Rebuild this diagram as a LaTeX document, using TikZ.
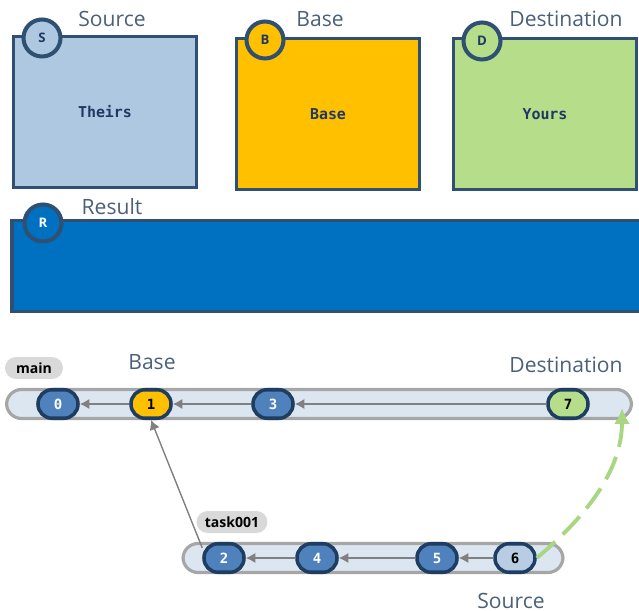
\documentclass[tikz,border=0pt]{standalone}
\usepackage{fontspec}
\setmainfont{Open Sans}
\setmonofont{DejaVu Sans Mono}
\usetikzlibrary{arrows.meta,positioning}
\definecolor{boxline}{RGB}{47,80,114}
\definecolor{commitline}{RGB}{30,61,96}
\definecolor{sourcefill}{RGB}{175,200,225}
\definecolor{basefill}{RGB}{255,192,0}
\definecolor{destfill}{RGB}{181,221,138}
\definecolor{resultfill}{RGB}{0,112,192}
\definecolor{commitblue}{RGB}{79,129,189}
\definecolor{commitlight}{RGB}{184,204,228}
\definecolor{lanefill}{RGB}{220,230,241}
\definecolor{laneline}{RGB}{166,166,166}
\definecolor{tagfill}{RGB}{217,217,217}
\definecolor{labeltext}{RGB}{75,96,122}
\definecolor{boxtext}{RGB}{31,56,100}
\definecolor{mergegreen}{RGB}{169,214,130}

\begin{document}
\begin{tikzpicture}[x=0.02cm, y=-0.02cm,
    box/.style={rectangle, draw=boxline, line width=2.2pt, minimum width=3.66cm, minimum height=3.02cm, align=center, font=\ttfamily\bfseries\fontsize{8.5}{10}\selectfont, text=boxtext},
    badge/.style={circle, draw=boxline, line width=2.3pt, minimum size=0.74cm, inner sep=0pt, font=\bfseries\fontsize{7.5}{8}\selectfont, text=boxtext},
    title/.style={font=\fontsize{12}{14}\selectfont, text=labeltext},
    lane/.style={rectangle, rounded corners=0.3cm, draw=laneline, line width=1.8pt, fill=lanefill, minimum height=0.58cm},
    commit/.style={rectangle, rounded corners=0.28cm, draw=commitline, line width=2pt, fill=commitblue, minimum width=0.8cm, minimum height=0.57cm, inner sep=0pt, font=\ttfamily\bfseries\fontsize{8}{9}\selectfont, text=white},
    tag/.style={rectangle, rounded corners=0.22cm, fill=tagfill, minimum height=0.44cm, inner sep=0pt, font=\bfseries\fontsize{8}{9}\selectfont},
    parent/.style={-{Latex[length=5.5pt,width=6pt]}, draw=gray, line width=1.1pt},
]
    \useasboundingbox (0,0) rectangle (639,611);

    % Merge inputs
    \node[box, fill=sourcefill] (theirs) at (105,112) {Theirs};
    \node[box, fill=basefill] (base) at (328,114) {Base};
    \node[box, fill=destfill] (yours) at (545,114) {Yours};
    \node[badge, fill=sourcefill] (s) at (42,38) {S};
    \node[badge, fill=basefill] (b) at (265,40) {B};
    \node[badge, fill=destfill] (d) at (482,41) {D};
    \node[title] (srctitle) at (112,19) {Source};
    \node[title] (basetitle) at (320,19) {Base};
    \node[title] (desttitle) at (566,19) {Destination};

    % Result
    \node[box, fill=resultfill, minimum width=12.72cm, minimum height=1.82cm] (result) at (330,266) {};
    \node[badge, fill=resultfill, text=white] (r) at (43,223) {R};
    \node[title] (restitle) at (112,207) {Result};

    % Branches
    \node[lane, minimum width=12.5cm] (mainlane) at (319,404) {};
    \node[lane, minimum width=7.6cm] (tasklane) at (373,558) {};
    \node[tag, minimum width=1.16cm] (maintag) at (34,368) {main};
    \node[tag, minimum width=1.42cm] (tasktag) at (232,522) {task001};

    % Commits
    \node[commit] (c0) at (58,404) {0};
    \node[commit, fill=basefill, text=black] (c1) at (151,404) {1};
    \node[commit] (c3) at (273,404) {3};
    \node[commit, fill=destfill, text=black] (c7) at (568,404) {7};
    \node[commit] (c2) at (224,558) {2};
    \node[commit] (c4) at (317,558) {4};
    \node[commit] (c5) at (437,558) {5};
    \node[commit, fill=commitlight, text=black] (c6) at (515,558) {6};

    % Parents
    \draw[parent] (c1) -- (c0);
    \draw[parent] (c3) -- (c1);
    \draw[parent] (c7) -- (c3);
    \draw[parent] (c4) -- (c2);
    \draw[parent] (c5) -- (c4);
    \draw[parent] (c6) -- (c5);
    \draw[parent, line width=0.8pt] (c2.155) -- (c1.south);

    % Merge direction
    \coordinate (tip) at (622,408);
    \draw[mergegreen, line width=2.2pt, dash pattern=on 14pt off 6pt, -{Latex[length=9pt,width=9pt]}] (c6.east) .. controls (600,505) and (622,460) .. (tip);

    \node[title] (baselbl) at (152,362) {Base};
    \node[title] (destlbl) at (566,365) {Destination};
    \node[title] (srclbl) at (511,601) {Source};
\end{tikzpicture}
\end{document}
